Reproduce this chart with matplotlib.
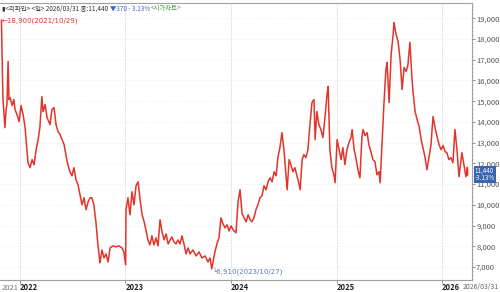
import pandas as pd
import matplotlib.pyplot as plt
from matplotlib.ticker import FuncFormatter, MultipleLocator

plt.rcParams['font.family'] = ['Noto Sans CJK KR', 'DejaVu Sans']

# 리파인 일봉 종가
dates = [
    "2021-10-29", "2021-11-01", "2021-11-03", "2021-11-10", "2021-11-14", "2021-11-17", "2021-11-21",
    "2021-11-24", "2021-11-28", "2021-12-05", "2021-12-11", "2021-12-15", "2021-12-22", "2021-12-29",
    "2022-01-05", "2022-01-12", "2022-01-19", "2022-01-25", "2022-01-29", "2022-02-05", "2022-02-12",
    "2022-02-19", "2022-02-26", "2022-03-05", "2022-03-11", "2022-03-18", "2022-03-22", "2022-03-29",
    "2022-04-05", "2022-04-15", "2022-04-22", "2022-04-29", "2022-05-06", "2022-05-13", "2022-05-20",
    "2022-05-27", "2022-06-03", "2022-06-09", "2022-06-16", "2022-06-23", "2022-06-30", "2022-07-07",
    "2022-07-14", "2022-07-21", "2022-07-28", "2022-08-04", "2022-08-11", "2022-08-18", "2022-08-25",
    "2022-09-01", "2022-09-07", "2022-09-14", "2022-09-21", "2022-09-28", "2022-10-05", "2022-10-12",
    "2022-10-19", "2022-10-26", "2022-11-02", "2022-11-09", "2022-11-19", "2022-11-30", "2022-12-10",
    "2022-12-20", "2022-12-27", "2023-01-02", "2023-01-03", "2023-01-10", "2023-01-17", "2023-01-24",
    "2023-01-31", "2023-02-07", "2023-02-14", "2023-02-21", "2023-02-28", "2023-03-07", "2023-03-13",
    "2023-03-20", "2023-03-27", "2023-04-03", "2023-04-10", "2023-04-17", "2023-04-24", "2023-05-01",
    "2023-05-08", "2023-05-15", "2023-05-22", "2023-05-29", "2023-06-05", "2023-06-11", "2023-06-18",
    "2023-06-25", "2023-07-02", "2023-07-09", "2023-07-16", "2023-07-23", "2023-07-30", "2023-08-06",
    "2023-08-13", "2023-08-23", "2023-09-03", "2023-09-13", "2023-09-23", "2023-10-04", "2023-10-14",
    "2023-10-21", "2023-10-27", "2023-11-07", "2023-11-14", "2023-11-21", "2023-11-28", "2023-12-05",
    "2023-12-12", "2023-12-19", "2023-12-26", "2024-01-02", "2024-01-09", "2024-01-19", "2024-01-26",
    "2024-02-02", "2024-02-09", "2024-02-16", "2024-02-23", "2024-03-01", "2024-03-08", "2024-03-14",
    "2024-03-21", "2024-03-28", "2024-04-04", "2024-04-11", "2024-04-18", "2024-04-25", "2024-05-02",
    "2024-05-09", "2024-05-16", "2024-05-23", "2024-05-30", "2024-06-06", "2024-06-12", "2024-06-19",
    "2024-06-26", "2024-07-03", "2024-07-10", "2024-07-14", "2024-07-21", "2024-07-27", "2024-08-03",
    "2024-08-10", "2024-08-17", "2024-08-24", "2024-08-28", "2024-09-04", "2024-09-10", "2024-09-17",
    "2024-09-24", "2024-10-01", "2024-10-08", "2024-10-15", "2024-10-19", "2024-10-25", "2024-11-01",
    "2024-11-08", "2024-11-15", "2024-11-22", "2024-11-29", "2024-12-03", "2024-12-09", "2024-12-16",
    "2024-12-23", "2024-12-27", "2025-01-03", "2025-01-10", "2025-01-17", "2025-01-23", "2025-01-30",
    "2025-02-06", "2025-02-13", "2025-02-20", "2025-02-24", "2025-03-03", "2025-03-09", "2025-03-16",
    "2025-03-23", "2025-03-30", "2025-04-03", "2025-04-10", "2025-04-17", "2025-04-23", "2025-04-30",
    "2025-05-07", "2025-05-14", "2025-05-21", "2025-05-28", "2025-06-01", "2025-06-08", "2025-06-14",
    "2025-06-21", "2025-06-25", "2025-07-02", "2025-07-09", "2025-07-16", "2025-07-19", "2025-07-26",
    "2025-08-02", "2025-08-09", "2025-08-16", "2025-08-23", "2025-08-30", "2025-09-05", "2025-09-12",
    "2025-09-19", "2025-09-23", "2025-09-30", "2025-10-07", "2025-10-14", "2025-10-21", "2025-10-27",
    "2025-11-03", "2025-11-10", "2025-11-17", "2025-11-24", "2025-12-01", "2025-12-08", "2025-12-15",
    "2025-12-22", "2025-12-29", "2026-01-05", "2026-01-12", "2026-01-18", "2026-01-25", "2026-02-01",
    "2026-02-08", "2026-02-15", "2026-02-22", "2026-03-01", "2026-03-08", "2026-03-11", "2026-03-18",
    "2026-03-25", "2026-03-30", "2026-03-31",
]
close = [
    18900, 16500, 15200, 13725, 14600, 14840, 16920,
    15080, 15180, 14790, 15080, 14600, 14350, 14020,
    14790, 14350, 13725, 12660, 12030, 11790, 12180,
    11935, 12660, 13145, 13725, 15225, 14500, 14840,
    14210, 13870, 14600, 14690, 13870, 13530, 13390,
    13145, 12900, 12420, 11935, 11600, 11400, 11790,
    11210, 10970, 10490, 10000, 10340, 9760, 10145,
    10340, 10340, 10000, 9180, 8065, 7190, 7820,
    7435, 7630, 7240, 7920, 8015, 7970, 8015,
    7920, 7725, 7100, 9760, 10340, 9515, 10630,
    10000, 10920, 11110, 10240, 9515, 9180, 8790,
    8305, 8065, 8500, 8065, 8400, 8015, 9275,
    8690, 8305, 8595, 8110, 8305, 8450, 8210,
    8110, 8305, 8110, 8500, 8110, 7630, 7920,
    7630, 7820, 7530, 7725, 7435, 7530, 7240,
    7435, 6910, 7725, 8110, 8400, 9370, 9080,
    8885, 9030, 8740, 8980, 8790, 8645, 10145,
    10725, 9565, 9370, 9180, 9515, 9275, 9180,
    9370, 9760, 10000, 10340, 10435, 10920, 10725,
    11110, 11305, 11110, 11595, 11400, 12275, 12760,
    13480, 12660, 11450, 10725, 12180, 11935, 11600,
    11790, 11400, 11015, 10725, 12180, 12420, 12275,
    12660, 13870, 14935, 15080, 13145, 14500, 13870,
    13630, 13240, 14210, 15320, 15710, 12660, 11790,
    11450, 11065, 13145, 12660, 12180, 12760, 11935,
    12660, 13000, 13240, 13630, 12660, 12275, 11695,
    11305, 13290, 13630, 13340, 13480, 12900, 12565,
    12180, 12080, 11450, 11600, 11065, 13145, 14840,
    16530, 16870, 14935, 17260, 18225, 18805, 18225,
    17890, 17015, 15565, 16630, 16435, 16725, 17840,
    16145, 15420, 14500, 14110, 13775, 13145, 12760,
    12320, 11695, 12275, 12900, 14260, 13725, 13290,
    12900, 12660, 12855, 12565, 12515, 12180, 12275,
    12030, 13630, 12660, 11355, 12180, 12515, 11935,
    11355, 11810, 11440,
]

year_ticks = ["2022-01-01", "2023-01-01", "2024-01-01", "2025-01-01", "2026-01-01"]
year_labels = ["2022", "2023", "2024", "2025", "2026"]

high_date, high_val = "2021-10-29", 18900
low_date, low_val = "2023-10-27", 6910
last_close, change, change_pct = 11440, -370, -3.13

s = pd.Series(close, index=pd.to_datetime(dates))

fig = plt.figure(figsize=(5, 2.92), dpi=100)
bottom = 12 / 292
ax = fig.add_axes([0, bottom, 472 / 500, 1 - bottom - 3 / 292])

ax.plot(s.index, s.values, color='#e3342b', lw=1.1)

ax.set_xlim(pd.Timestamp("2021-10-24"), pd.Timestamp("2026-04-15"))
ax.set_ylim(6370, 19740)

# 축 / 격자
ax.spines['left'].set_visible(False)
for side in ['top', 'right', 'bottom']:
    ax.spines[side].set_color('#a0a0a0')
    ax.spines[side].set_linewidth(0.8)

ax.yaxis.tick_right()
ax.set_yticks(range(7000, 19001, 1000))
ax.yaxis.set_minor_locator(MultipleLocator(200))
ax.yaxis.set_major_formatter(FuncFormatter(lambda v, p: f"{v:,.0f}"))
ax.tick_params(axis='y', which='major', length=2, width=0.6, color='#777777',
               labelsize=5.5, labelcolor='#555555', pad=1)
ax.tick_params(axis='y', which='minor', length=1, width=0.5, color='#999999')

ax.set_xticks(pd.to_datetime(year_ticks))
ax.set_xticklabels(year_labels, ha='left', fontsize=5.5, fontweight='bold', color='#222222')
ax.tick_params(axis='x', length=2, width=0.6, color='#777777', pad=0.5, direction='out')

ax.grid(axis='x', color='#cccccc', lw=0.6, ls=(0, (1, 1)))
ax.grid(axis='y', color='#eeeeee', lw=0.5, ls=(0, (1, 1)))

lab_y = bottom - 3.5 / 292
fig.text(0.004, lab_y, "2021", fontsize=5.5, color='#777777', ha='left', va='top')
fig.text(0.998, lab_y, "2026/03/31", fontsize=5, color='#666666', ha='right', va='top')

# 최고 / 최저 표시
ax.annotate(f"←{high_val:,}({high_date.replace('-', '/')})", (pd.Timestamp(high_date), high_val),
            xytext=(0, 0), textcoords='offset points', fontsize=5, color='#e3342b',
            ha='left', va='center', family=['DejaVu Sans'])
ax.annotate(f"└{low_val:,}({low_date.replace('-', '/')})", (pd.Timestamp(low_date), low_val),
            xytext=(0, 1), textcoords='offset points', fontsize=5, color='#5b7cb6',
            ha='left', va='top', family=['DejaVu Sans'])

# 오른쪽 현재가 박스
ax.annotate(f"{last_close:,}\n{change_pct:.2f}%", (1, last_close),
            xycoords=('axes fraction', 'data'), xytext=(2, 0.5), textcoords='offset points',
            fontsize=4.5, color='white', ha='left', va='center', linespacing=0.85,
            bbox=dict(boxstyle='square,pad=0.12', fc='#3a64ad', ec='none'),
            annotation_clip=False, zorder=10)

# 상단 제목
x0 = 0.004
parts = [
    (f"▮<리파인> <일> 2026/03/31 종:{last_close:,} ", '#333333'),
    (f"▼{abs(change)} - {abs(change_pct):.2f}% ", '#3b64c0'),
    ("<시가차트>", '#3c9a3c'),
]
renderer = fig.canvas.get_renderer()
for txt, col in parts:
    t = fig.text(x0, 0.985, txt, fontsize=4.6, color=col, ha='left', va='top')
    bb = t.get_window_extent(renderer=renderer)
    x0 += bb.width / fig.bbox.width

fig.savefig("out.png", dpi=100)
